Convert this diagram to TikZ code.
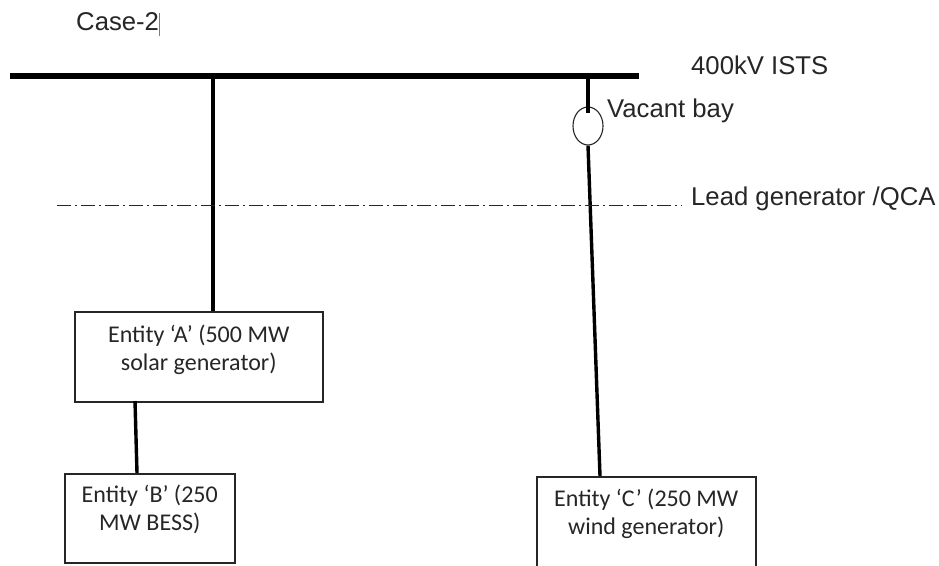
\documentclass[tikz,border=0pt]{standalone}
\usepackage{fontspec}
\setmainfont{Liberation Sans}
\newfontfamily\boxfont{Carlito}
\usetikzlibrary{positioning,shapes.geometric}
\definecolor{softInk}{RGB}{38,38,38}
\tikzset{
  entitybox/.style={draw=softInk, line width=1.5pt, fill=white, align=center, anchor=north west, inner sep=0pt, font=\boxfont\fontsize{24}{28}\selectfont, text=softInk},
  label/.style={anchor=west, inner sep=0pt, text=softInk, font=\fontsize{25.7}{30}\selectfont},
  feeder/.style={line width=3.4pt, black},
  busbar/.style={line width=5.2pt, black},
  qcaline/.style={line width=0.9pt, softInk, dash pattern=on 14pt off 4pt on 2pt off 4pt}
}
\begin{document}
\begin{tikzpicture}[x=1pt, y=-1pt]
        \clip (0,0) rectangle (939,565);
        \fill[white] (0,0) rectangle (939,565);
        % bus and the levels under it
        \coordinate (busL) at (10,76);
        \coordinate (busR) at (639,76);
        \coordinate (busA) at (213,76);
        \coordinate (busC) at (588,76);
        \coordinate (qcaL) at (57,205);
        \coordinate (qcaR) at (682,205);
        \coordinate (bayIn) at (588,113);
        \coordinate (outA) at (135,401);
        \coordinate (inB) at (137,473);
        \coordinate (inC) at (600,476);
        \node[entitybox, minimum width=248pt, minimum height=90pt] (a) at (74,311) {Entity ‘A’ (500 MW\\solar generator)\\[-10pt]\mbox{}};
        \node[entitybox, minimum width=170pt, minimum height=89pt] (b) at (64,473) {Entity ‘B’ (250\\MW BESS)\\[-6pt]\mbox{}};
        \node[entitybox, minimum width=219pt, minimum height=90pt] (c) at (536,476) {Entity ‘C’ (250 MW\\wind generator)\\[-8pt]\mbox{}};
        \node[draw=softInk, line width=1.1pt, ellipse, minimum width=30pt, minimum height=38pt, inner sep=0pt] (bay) at (588,126) {};
        \node[label] (case) at (76,24) {Case-2\textcolor{softInk!60}{\rule[-5pt]{0.7pt}{23pt}}};
        \node[label] (ists) at (691,65) {400kV ISTS};
        \node[label] (vacant) at (607,111) {Vacant bay};
        \node[label] (lead) at (691,199) {Lead generator /QCA};
        \draw[busbar] (busL) -- (busR);
        \draw[feeder] (busA) -- (a.north -| busA);
        \draw[feeder] (busC) -- (bayIn);
        \draw[feeder] (bay.south) -- (inC);
        \draw[feeder] (outA) -- (inB);
        \draw[qcaline] (qcaL) -- (qcaR);
      \end{tikzpicture}
\end{document}
